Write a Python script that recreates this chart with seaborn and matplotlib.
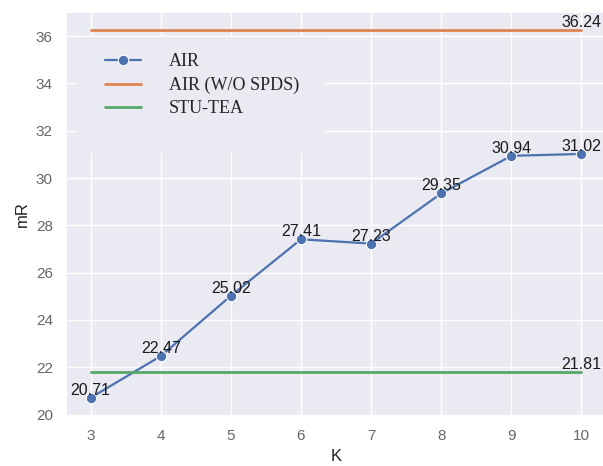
import matplotlib
matplotlib.use("Agg")
import matplotlib.pyplot as plt
from matplotlib.patches import Rectangle
import pandas as pd
import seaborn as sns

# values
k_values = [3, 4, 5, 6, 7, 8, 9, 10]
air_mr = [20.71, 22.47, 25.02, 27.41, 27.23, 29.35, 30.94, 31.02]
air_wo_spds_mr = 36.24
stu_tea_mr = 21.81
series_names = ["AIR", "AIR (W/O SPDS)", "STU-TEA"]

sns.set_theme(style="darkgrid")
plt.rcParams["font.family"] = ["Liberation Sans", "DejaVu Sans"]

palette = sns.color_palette("deep")
blue, orange, green = palette[0], palette[1], palette[2]

fig = plt.figure(figsize=(6.03, 4.66), dpi=100)
ax = fig.add_axes([0.1095, 0.107, 0.8955, 0.867])

air_df = pd.DataFrame({"K": k_values, "mR": air_mr})
sns.lineplot(data=air_df, x="K", y="mR", marker="o", color=blue,
             markersize=7.5, linewidth=1.6, ax=ax, label=series_names[0])

ends = [k_values[0], k_values[-1]]
sns.lineplot(x=ends, y=[air_wo_spds_mr, air_wo_spds_mr], color=orange,
             linewidth=2, ax=ax, label=series_names[1])
sns.lineplot(x=ends, y=[stu_tea_mr, stu_tea_mr], color=green,
             linewidth=2, ax=ax, label=series_names[2])

# value labels above each point
for k, v in zip(k_values, air_mr):
    ax.text(k, v, f"{v:.2f}", ha="center", va="bottom", fontsize=11.5,
            color="#1a1a1a")
ax.text(k_values[-1], air_wo_spds_mr, f"{air_wo_spds_mr:.2f}", ha="center",
        va="bottom", fontsize=11.5, color="#1a1a1a")
ax.text(k_values[-1], stu_tea_mr, f"{stu_tea_mr:.2f}", ha="center",
        va="bottom", fontsize=11.5, color="#1a1a1a")

ax.set_xticks(k_values)
ax.set_yticks(range(20, 37, 2))
ax.tick_params(axis="both", labelsize=11, labelcolor="#666666")
ax.set_xlabel("K", fontsize=12, color="#222222")
ax.set_ylabel("mR", fontsize=12, color="#222222")

# legend panel hiding the grid behind it
ax.add_patch(Rectangle((0.0204, 0.651), 0.4592, 0.287, transform=ax.transAxes,
                       facecolor="#EAEAF2", edgecolor="none", zorder=1))
leg = ax.legend(loc="upper left", bbox_to_anchor=(0.072, 0.898),
                frameon=False, borderpad=0, borderaxespad=0,
                handlelength=2.0, handletextpad=1.55, labelspacing=0.35,
                prop={"family": "Liberation Serif", "size": 13})

fig.savefig("out.png", dpi=100)
